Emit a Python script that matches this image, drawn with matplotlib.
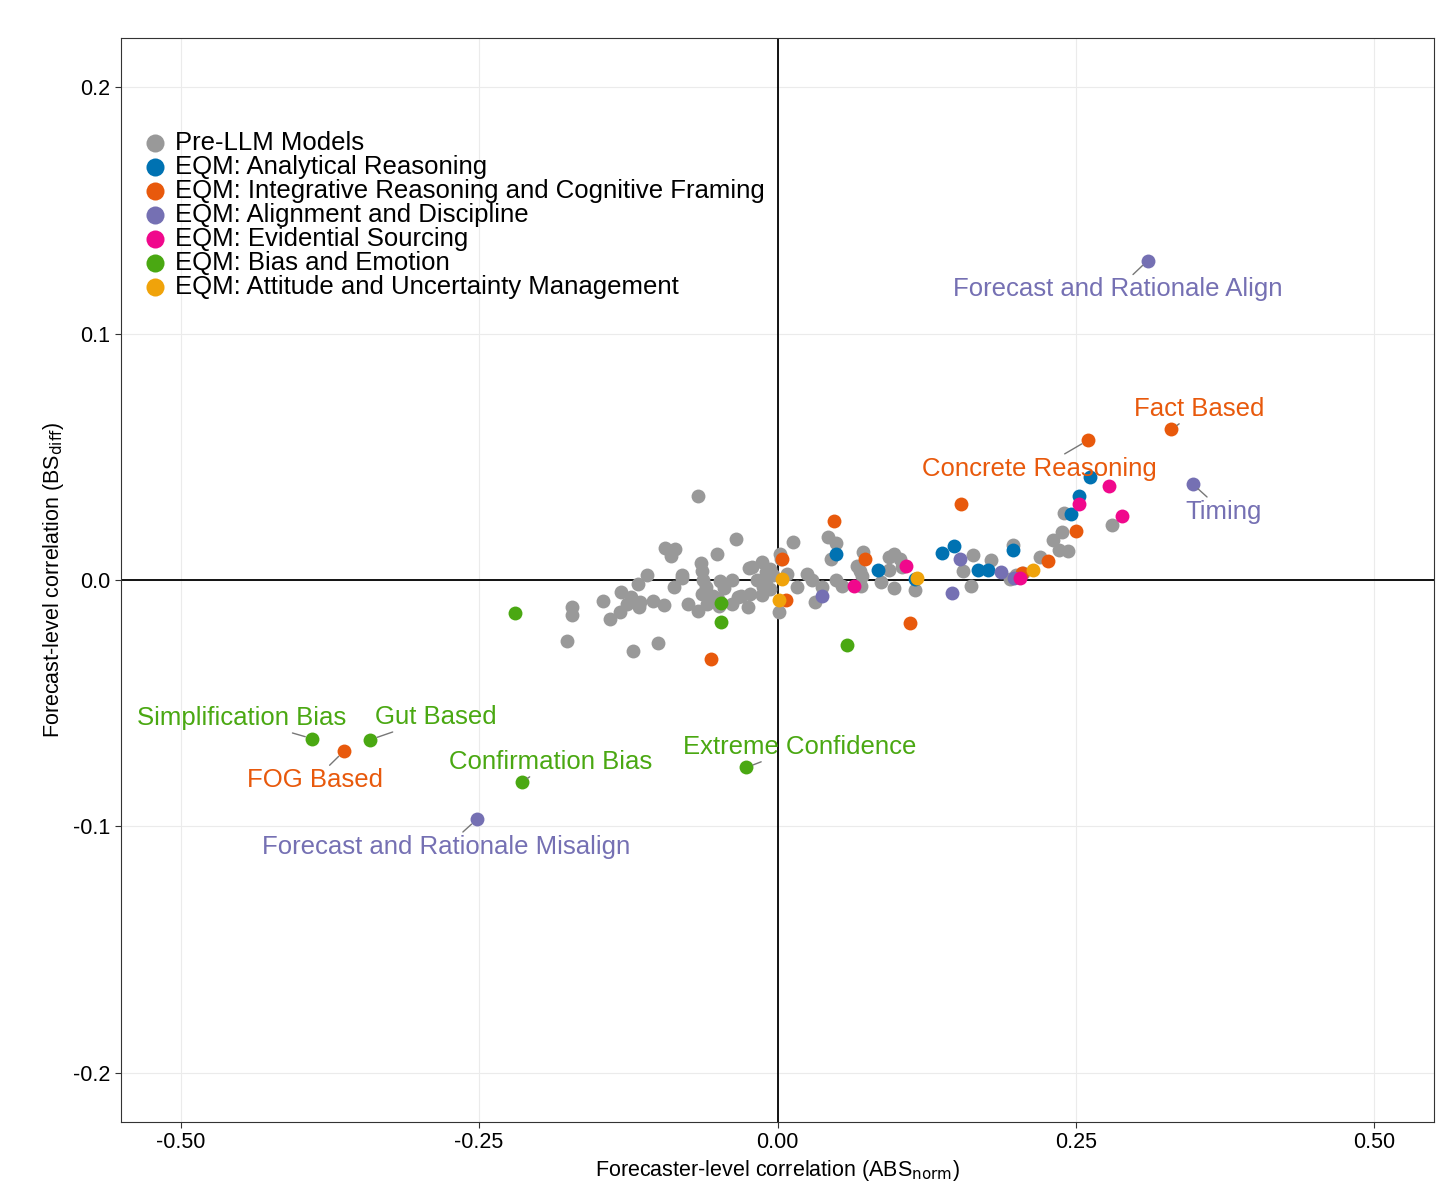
import matplotlib
matplotlib.use('Agg')
from matplotlib import pyplot as plt

plt.rcParams['font.family'] = ['Liberation Sans', 'DejaVu Sans']

# Pre-LLM models (grey)
pre_x = [-0.067, -0.035, -0.094, -0.086, -0.089, -0.051, -0.064, -0.063, -0.109, -0.080,
         -0.080, -0.0235, -0.038, -0.048, -0.117, -0.087, -0.060, -0.045, -0.131, -0.146,
         -0.123, -0.126, -0.115, -0.116, -0.104, -0.095, -0.075, -0.063, -0.054, -0.050,
         -0.059, -0.067, -0.049, -0.038, -0.033, -0.025, -0.132, -0.140, -0.172, -0.1725,
         -0.176, -0.121, -0.1005, -0.023, -0.062, -0.021, -0.0126, -0.006, -0.010, 0.0025,
         0.003, 0.008, 0.0134, 0.025, 0.0285, 0.0167, 0.0369, 0.031, 0.0419, 0.0494,
         0.0444, 0.0494, 0.0544, 0.067, 0.0695, 0.072, 0.071, 0.0703, 0.0863, 0.093,
         0.093, 0.0972, 0.104, 0.098, 0.1156, 0.103, -0.0126, 0.001, -0.031, -0.006,
         0.155, 0.164, 0.1625, 0.179, 0.197, 0.195, 0.206, 0.220, 0.231, 0.238,
         0.236, 0.243, 0.240, 0.280, 0.200, -0.017, -0.004, -0.012, -0.0085]
pre_y = [0.034, 0.0166, 0.013, 0.0126, 0.0097, 0.0105, 0.0069, 0.0036, 0.002, 0.002,
         0.0008, 0.0049, 0.0, -0.0004, -0.0016, -0.0028, -0.0028, -0.0032, -0.0049, -0.0085,
         -0.0069, -0.0097, -0.0089, -0.011, -0.0085, -0.0101, -0.0097, -0.0057, -0.0065, -0.0077,
         -0.0097, -0.0126, -0.0105, -0.0097, -0.0069, -0.011, -0.013, -0.0158, -0.011, -0.0142,
         -0.0247, -0.0287, -0.0255, -0.0057, 0.0, 0.0053, 0.0073, 0.0045, 0.0032, 0.0105,
         0.0085, 0.0024, 0.0154, 0.0024, 0.0, -0.0028, -0.0028, -0.0089, 0.0174, 0.015,
         0.0085, 0.0, -0.0024, 0.0057, 0.0036, 0.0113, 0.0016, -0.0024, -0.0008, 0.004,
         0.0093, 0.0105, 0.0053, -0.0032, -0.004, 0.0085, -0.006, -0.013, -0.0065, -0.0036,
         0.0036, 0.0101, -0.0024, 0.0081, 0.0142, 0.0004, 0.0028, 0.0093, 0.0162, 0.0194,
         0.0121, 0.0117, 0.0271, 0.0223, 0.002, 0.0, 0.002, -0.003, 0.001]

analytical_x = [0.0486, 0.0838, 0.1156, 0.138, 0.148, 0.168, 0.176, 0.197, 0.246, 0.253, 0.262]
analytical_y = [0.0105, 0.004, 0.0004, 0.011, 0.0138, 0.004, 0.004, 0.0121, 0.0267, 0.034, 0.042]

integrative_x = [-0.0561, 0.0477, 0.0034, 0.0067, 0.0729, 0.1106, 0.154, 0.2504, 0.227, 0.205,
                 0.330, 0.260, -0.3635]
integrative_y = [-0.032, 0.0239, 0.0085, -0.0081, 0.0085, -0.0174, 0.0308, 0.0198, 0.0077, 0.003,
                 0.0611, 0.0567, -0.0696]

alignment_x = [0.0369, 0.1526, 0.1466, 0.1876, 0.198, 0.310, 0.348, -0.252]
alignment_y = [-0.0065, 0.0085, -0.0053, 0.0032, 0.0008, 0.1296, 0.0389, -0.0972]

evidential_x = [0.0637, 0.108, 0.203, 0.253, 0.278, 0.289]
evidential_y = [-0.0024, 0.0057, 0.0008, 0.0308, 0.038, 0.026]

bias_x = [-0.220, -0.0477, 0.0586, -0.047, -0.390, -0.341, -0.2144, -0.026]
bias_y = [-0.0134, -0.017, -0.0263, -0.0093, -0.0644, -0.0648, -0.0822, -0.0761]

attitude_x = [0.004, 0.001, 0.2144, 0.117]
attitude_y = [0.0004, -0.0081, 0.004, 0.001]

groups = [
    ('Pre-LLM Models', pre_x, pre_y, '#999999'),
    ('EQM: Analytical Reasoning', analytical_x, analytical_y, '#0072B2'),
    ('EQM: Integrative Reasoning and Cognitive Framing', integrative_x, integrative_y, '#E8590C'),
    ('EQM: Alignment and Discipline', alignment_x, alignment_y, '#7570B3'),
    ('EQM: Evidential Sourcing', evidential_x, evidential_y, '#F0088C'),
    ('EQM: Bias and Emotion', bias_x, bias_y, '#4AA812'),
    ('EQM: Attitude and Uncertainty Management', attitude_x, attitude_y, '#F0A30A'),
]

# labelled points: (text, point x, point y, colour)
labels = [
    ('Forecast and Rationale Align', 0.310, 0.1296, '#7570B3'),
    ('Fact Based', 0.330, 0.0611, '#E8590C'),
    ('Concrete Reasoning', 0.260, 0.0567, '#E8590C'),
    ('Timing', 0.348, 0.0389, '#7570B3'),
    ('Simplification Bias', -0.390, -0.0644, '#4AA812'),
    ('Gut Based', -0.341, -0.0648, '#4AA812'),
    ('FOG Based', -0.3635, -0.0696, '#E8590C'),
    ('Confirmation Bias', -0.2144, -0.0822, '#4AA812'),
    ('Extreme Confidence', -0.026, -0.0761, '#4AA812'),
    ('Forecast and Rationale Misalign', -0.252, -0.0972, '#7570B3'),
]
# where each label text sits
label_pos = [(0.2848, 0.1180), (0.3534, 0.0694), (0.2194, 0.0452), (0.3735, 0.0277),
             (-0.449, -0.0561), (-0.2864, -0.0557), (-0.3878, -0.0812), (-0.190, -0.0739),
             (0.0184, -0.0678), (-0.2772, -0.1083)]

fig = plt.figure(figsize=(14.56, 11.96), dpi=100)
ax = fig.add_axes([0.0831, 0.0619, 0.9018, 0.9063])

ax.axhline(0, color='black', lw=1.3, zorder=1)
ax.axvline(0, color='black', lw=1.3, zorder=1)

for name, xs, ys, col in groups:
    ax.scatter(xs, ys, s=100, color=col, label=name, linewidths=0, zorder=2)

for (txt, px, py, col), (tx, ty) in zip(labels, label_pos):
    ax.annotate(txt, xy=(px, py), xytext=(tx, ty), color=col, fontsize=18.5,
                ha='center', va='center',
                arrowprops=dict(arrowstyle='-', color='#777777', lw=1,
                                shrinkA=0, shrinkB=5), zorder=3)

ax.set_xlim(-0.55, 0.55)
ax.set_ylim(-0.22, 0.22)
ax.set_xticks([-0.5, -0.25, 0, 0.25, 0.5])
ax.set_xticklabels(['-0.50', '-0.25', '0.00', '0.25', '0.50'])
ax.set_yticks([-0.2, -0.1, 0, 0.1, 0.2])
ax.set_yticklabels(['-0.2', '-0.1', '0.0', '0.1', '0.2'])
ax.grid(True, color='#EBEBEB', lw=0.8, zorder=0)
ax.set_axisbelow(True)
ax.tick_params(labelsize=15.5, length=4, width=0.8, color='#333333', direction='out')
for sp in ax.spines.values():
    sp.set_color('#333333')
    sp.set_linewidth(0.8)

ax.set_xlabel('Forecaster-level correlation (ABS$_{\\mathrm{norm}}$)', fontsize=15.5, labelpad=3)
ax.set_ylabel('Forecast-level correlation (BS$_{\\mathrm{diff}}$)', fontsize=15.5, labelpad=5)

ax.legend(loc='upper left', bbox_to_anchor=(0.0065, 0.9235), frameon=False, fontsize=18.5,
          markerscale=1.3, handletextpad=0.18, labelspacing=0.0, borderaxespad=0,
          handlelength=1.2)

plt.savefig('out.png', dpi=100)
